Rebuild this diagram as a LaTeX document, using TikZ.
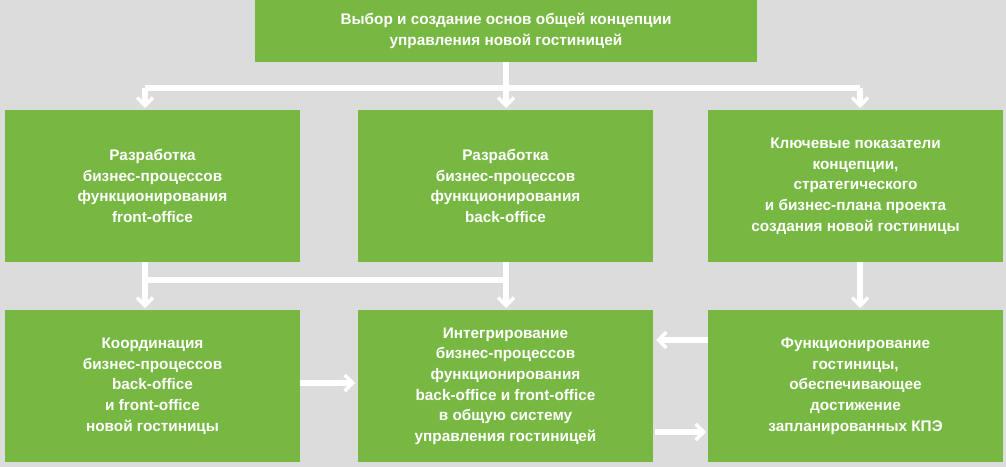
\documentclass[tikz,border=0pt]{standalone}
\usepackage{fontspec}
\setmainfont{Liberation Sans}
\usetikzlibrary{arrows.meta}
\definecolor{bg}{HTML}{DCDCDC}
\definecolor{gr}{HTML}{77B843}
\tikzset{
  box/.style={fill=gr,text=white,font=\bfseries\fontsize{11.5}{15.5}\selectfont,align=center,inner sep=0pt},
  conn/.style={draw=white,line width=3.8pt},
  arr/.style={conn,-{Straight Barb[length=6pt,width=12pt,line width=2.6pt]}}
}
\begin{document}
\begin{tikzpicture}[x=0.75pt,y=-0.75pt]
\fill[bg] (0,0) rectangle (1006,467);
\useasboundingbox (0,0) rectangle (1006,467);
\newcommand\bx[6]{\fill[gr] (#2,#3) rectangle (#4,#5); \node[box] (#1) at ({(#2+#4)/2},{(#3+#5)/2}) {#6};}
\bx{top}{255}{0}{757}{62}{Выбор и создание основ общей концепции\\управления новой гостиницей}
\bx{a}{5}{110}{300}{262}{Разработка\\бизнес-процессов\\функционирования\\front-office}
\bx{b}{358}{110}{653}{262}{Разработка\\бизнес-процессов\\функционирования\\back-office}
\bx{c}{708}{110}{1003}{262}{Ключевые показатели\\концепции,\\стратегического\\и бизнес-плана проекта\\создания новой гостиницы}
\bx{d}{5}{310}{300}{462}{Координация\\бизнес-процессов\\back-office\\и front-office\\новой гостиницы}
\bx{e}{358}{310}{653}{462}{Интегрирование\\бизнес-процессов\\функционирования\\back-office и front-office\\в общую систему\\управления гостиницей}
\bx{f}{708}{310}{1003}{462}{Функционирование\\гостиницы,\\обеспечивающее\\достижение\\запланированных КПЭ}
\coordinate (t0) at (506,62);
\coordinate (tj) at (506,88);
\coordinate (tl) at (145,88);
\coordinate (tr) at (860,88);
\draw[conn] (tl) -- (tr);
\draw[conn] (t0) -- (tj);
\draw[arr] (tl) -- (145,108);
\draw[arr] (tj) -- (506,108);
\draw[arr] (tr) -- (860,108);
\coordinate (a0) at (145,262);
\coordinate (aj) at (145,280);
\coordinate (bj) at (506,280);
\draw[conn] (a0) -- (aj) -- (bj);
\draw[arr] (aj) -- (145,308);
\draw[arr] (506,262) -- (506,308);
\draw[arr] (860,262) -- (860,308);
\draw[arr] (708,340) -- (656,340);
\draw[arr] (300,383) -- (355,383);
\draw[arr] (655,432) -- (706,432);
\end{tikzpicture}
\end{document}
